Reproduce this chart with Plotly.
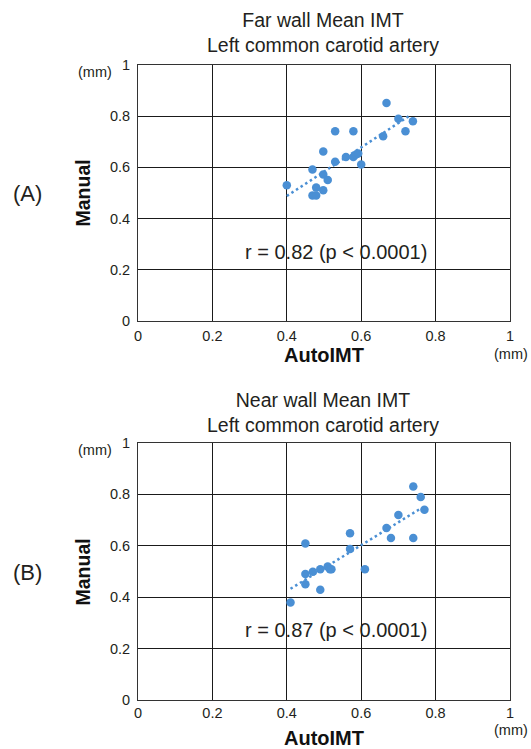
import numpy as np
import plotly.graph_objects as go

# ---- data ----
far_auto = [0.40, 0.668, 0.70, 0.739, 0.719, 0.659, 0.53, 0.579, 0.498, 0.53, 0.559,
            0.579, 0.586, 0.592, 0.60, 0.469, 0.498, 0.51, 0.479, 0.498, 0.469, 0.479]
far_manual = [0.53, 0.852, 0.79, 0.78, 0.741, 0.722, 0.741, 0.741, 0.662, 0.622, 0.641,
              0.641, 0.650, 0.654, 0.611, 0.592, 0.572, 0.551, 0.521, 0.511, 0.49, 0.49]

near_auto = [0.74, 0.76, 0.77, 0.70, 0.668, 0.68, 0.74, 0.57, 0.57, 0.45, 0.61,
             0.51, 0.516, 0.52, 0.49, 0.47, 0.45, 0.45, 0.49, 0.41]
near_manual = [0.831, 0.79, 0.74, 0.72, 0.669, 0.63, 0.63, 0.649, 0.588, 0.609, 0.509,
               0.519, 0.509, 0.509, 0.509, 0.499, 0.49, 0.45, 0.429, 0.379]

tick_vals = [0, 0.2, 0.4, 0.6, 0.8, 1]
tick_text = ["0", "0.2", "0.4", "0.6", "0.8", "1"]
titles = ["Far wall Mean IMT<br>Left common carotid artery",
          "Near wall Mean IMT<br>Left common carotid artery"]
r_texts = ["r = 0.82 (p < 0.0001)", "r = 0.87 (p < 0.0001)"]
panel_labels = ["(A)", "(B)"]

W, H = 531, 749
FONT = "Liberation Sans, Arial, sans-serif"
DOT = "#4A8FD4"
TXT = "#231F20"

def px(x):
    return x / W

def py(y):
    return 1 - y / H

fig = go.Figure()

datasets = [(far_auto, far_manual), (near_auto, near_manual)]
# plot area pixel boxes: (left, top, right, bottom)
boxes = [(138, 65, 510, 321), (138, 443, 510, 700)]
# text layout (pixel centres)
lay = [
    dict(title_y=32.5, mm_y=72, lab_y=193, r_y=252, auto_y=354.5, mmr_y=353.5, xstand=2),
    dict(title_y=412, mm_y=450, lab_y=572, r_y=630, auto_y=737.5, mmr_y=730, xstand=0),
]

for i, ((xa, ya), box, L) in enumerate(zip(datasets, boxes, lay)):
    n = "" if i == 0 else str(i + 1)
    xa_arr = np.array(xa)
    ya_arr = np.array(ya)
    m, b = np.polyfit(xa_arr, ya_arr, 1)
    xl = np.array([xa_arr.min(), xa_arr.max() - 0.008])
    fig.add_trace(go.Scatter(x=xl, y=m * xl + b, mode="lines",
                             line=dict(color=DOT, width=2.5, dash="2.5px,3px"),
                             xaxis="x" + n, yaxis="y" + n, showlegend=False,
                             hoverinfo="skip"))
    fig.add_trace(go.Scatter(x=xa, y=ya, mode="markers",
                             marker=dict(color=DOT, size=8.5),
                             xaxis="x" + n, yaxis="y" + n, showlegend=False))
    l, t, r, btm = box
    axcommon = dict(range=[0, 1], tickvals=tick_vals, ticktext=tick_text,
                    showgrid=True, gridcolor="#1a1a1a", gridwidth=1,
                    showline=True, linecolor="#333", linewidth=1, mirror=True,
                    zeroline=False, ticks="", fixedrange=True, automargin=False,
                    tickfont=dict(family=FONT, size=14.5, color=TXT))
    fig.layout["xaxis" + n] = dict(axcommon, domain=[px(l), px(r)],
                                   anchor="y" + n, ticklabelstandoff=L["xstand"])
    fig.layout["yaxis" + n] = dict(axcommon, domain=[py(btm), py(t)],
                                   anchor="x" + n, ticklabelstandoff=4)

    anns = [
        dict(text=titles[i], x=px(323), y=py(L["title_y"]), xanchor="center",
             yanchor="middle", font=dict(size=19.5, color=TXT)),
        dict(text="(mm)", x=px(95), y=py(L["mm_y"]), xanchor="center", yanchor="middle",
             font=dict(size=14.5, color=TXT)),
        dict(text="<b>Manual</b>", x=px(82.5), y=py(L["lab_y"]), textangle=-90,
             xanchor="center", yanchor="middle", font=dict(size=19.5, color="#111")),
        dict(text=panel_labels[i], x=px(27.5), y=py(L["lab_y"]),
             xanchor="center", yanchor="middle", font=dict(size=22, color=TXT)),
        dict(text="<b>AutoIMT</b>", x=px(324), y=py(L["auto_y"]), xanchor="center",
             yanchor="middle", font=dict(size=20, color="#111")),
        dict(text="(mm)", x=px(511), y=py(L["mmr_y"]), xanchor="center", yanchor="middle",
             font=dict(size=14.5, color=TXT)),
        dict(text=r_texts[i], x=px(336), y=py(L["r_y"]),
             xanchor="center", yanchor="middle", font=dict(size=20, color=TXT)),
    ]
    for a in anns:
        a.update(xref="paper", yref="paper", showarrow=False)
        a["font"]["family"] = FONT
        fig.add_annotation(**a)

fig.update_layout(width=W, height=H, margin=dict(l=0, r=0, t=0, b=0),
                  paper_bgcolor="white", plot_bgcolor="white",
                  font=dict(family=FONT))

fig.write_html("out.html", config={"displayModeBar": False},
               post_script="document.body.style.margin='0';"
                           "document.body.style.overflow='hidden';")
